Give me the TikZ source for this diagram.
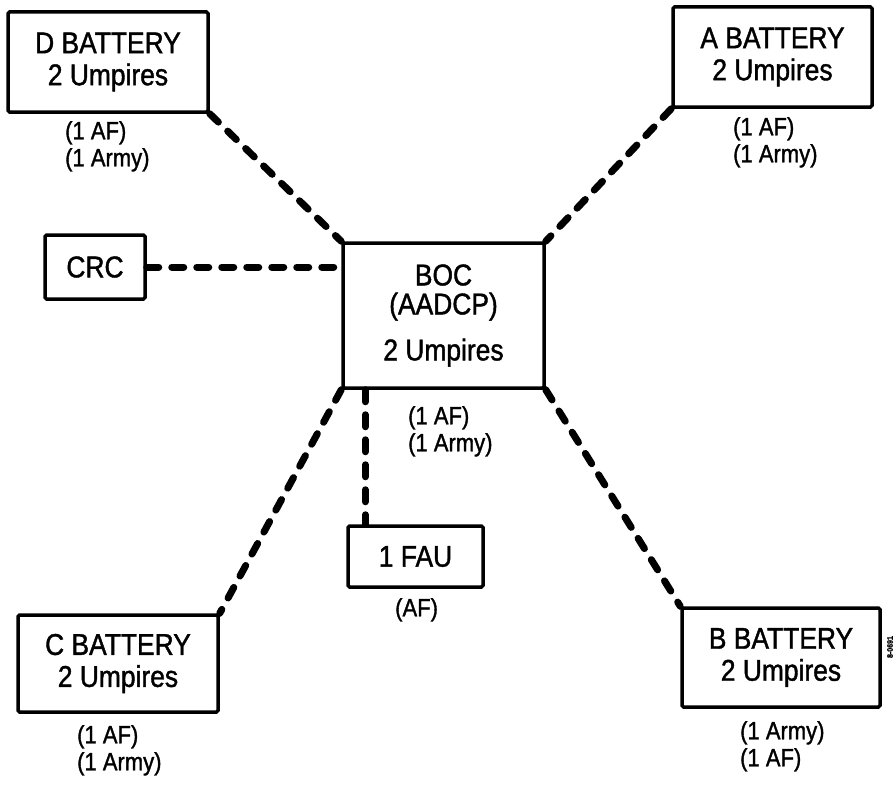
\documentclass[tikz,border=0pt]{standalone}
\usepackage{fontspec}
\setmainfont[FakeStretch=0.88, FakeBold=1.3]{Liberation Sans}
\usetikzlibrary{calc}
\tikzset{
  unitbox/.style={rectangle, rounded corners=1.5pt, draw=black, line width=3.5pt, align=center, inner sep=0pt, font=\fontsize{30}{32}\selectfont},
  note/.style={anchor=north west, align=left, inner sep=0pt, font=\fontsize{25}{27}\selectfont},
  link/.style={line width=7pt, line cap=round, dash pattern=on 12pt off 13pt},
}
\begin{document}
\begin{tikzpicture}[x=1pt,y=-1pt]
  \useasboundingbox (0,0) rectangle (896,784);
  % units
  \node[unitbox, minimum width=200pt, minimum height=100pt] (dbat) at (108,62) {D BATTERY\\2 Umpires};
  \node[unitbox, minimum width=199pt, minimum height=100pt] (abat) at (772.5,57) {A BATTERY\\2 Umpires};
  \node[unitbox, minimum width=100pt, minimum height=64pt] (crc) at (95,267) {CRC};
  \node[unitbox, minimum width=201pt, minimum height=145pt, font=\fontsize{30}{29}\selectfont] (boc) at (443.5,315.5) {BOC\\(AADCP)\\[17pt]2 Umpires};
  \node[unitbox, minimum width=135pt, minimum height=61pt] (fau) at (415.5,556.5) {1 FAU};
  \node[unitbox, minimum width=200pt, minimum height=97pt] (cbat) at (118,663.5) {C BATTERY\\2 Umpires};
  \node[unitbox, minimum width=198pt, minimum height=99pt] (bbat) at (781,657.5) {B BATTERY\\2 Umpires};
  % umpire notes
  \node[note] (dnote) at (65,121) {(1 AF)\\(1 Army)};
  \node[note] (anote) at (733,117) {(1 AF)\\(1 Army)};
  \node[note] (bocnote) at (408,406) {(1 AF)\\(1 Army)};
  \node[note] (faunote) at (395,598) {(AF)};
  \node[note] (cnote) at (77,725) {(1 AF)\\(1 Army)};
  \node[note] (bnote) at (740,721) {(1 Army)\\(1 AF)};
  \node[rotate=90, inner sep=0pt, font=\fontsize{8}{8}\bfseries] (fignum) at (890,647) {8-0691};
  % links
  \coordinate (tap) at ($(boc.south west)+(24,0)$);
  \draw[link] (dbat.south east) -- (boc.north west);
  \draw[link] (abat.south west) -- (boc.north east);
  \draw[link] (crc.east) -- (crc.east -| boc.west);
  \draw[link] (boc.south west) -- (cbat.north east);
  \draw[link] (boc.south east) -- (bbat.north west);
  \draw[link] (tap) -- (tap |- fau.north);
\end{tikzpicture}
\end{document}
